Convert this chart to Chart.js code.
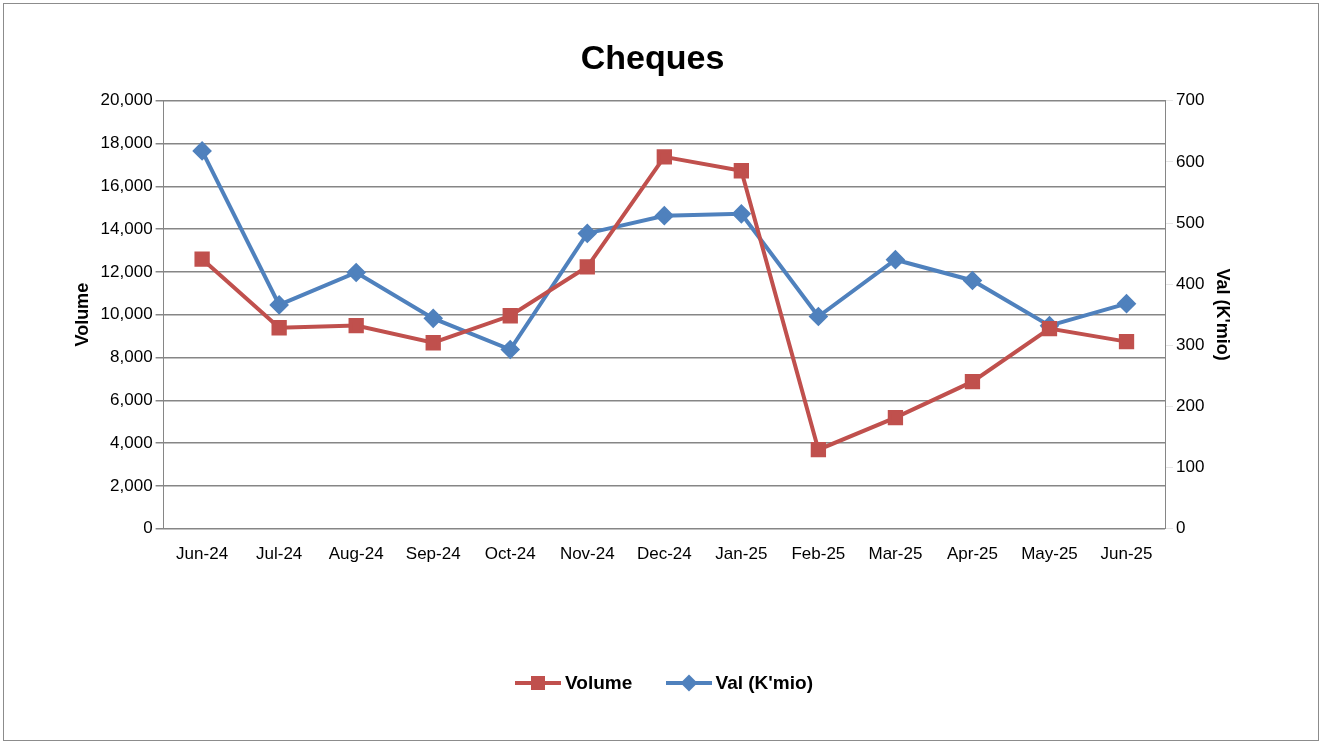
<!DOCTYPE html>
<html>
<head>
<meta charset="utf-8">
<script src="https://cdn.jsdelivr.net/npm/chart.js@4"></script>
<style>
  body { margin: 0; background: #fff; font-family: 'Liberation Sans', Arial, sans-serif; }
  .frame { position: absolute; left: 3px; top: 3px; width: 1316px; height: 738px; border: 1px solid #8c8c8c; box-sizing: border-box; }
  .wrap { position: absolute; left: 0; top: 0; width: 1328px; height: 747px; }
  .legend { position: absolute; top: 672px; left: 0; width: 1328px; text-align: center; font: bold 19px 'Liberation Sans Narrow', 'Liberation Sans', sans-serif; }
  .legend span { display: inline-flex; align-items: center; margin: 0 14px; }
  .legend svg { margin-right: 4px; }
</style>
</head>
<body>
<div class="frame"></div>
<div class="wrap"><canvas id="chequesChart" width="1328" height="747"></canvas></div>
<div class="legend">
  <span><svg width="46" height="20"><line x1="0" y1="10" x2="46" y2="10" stroke="#C0504D" stroke-width="4"/><rect x="16" y="3" width="14" height="14" fill="#C0504D"/></svg>Volume</span>
  <span><svg width="46" height="20"><line x1="0" y1="10" x2="46" y2="10" stroke="#4F81BD" stroke-width="4"/><rect x="17" y="4" width="12" height="12" fill="#4F81BD" transform="rotate(45 23 10)"/></svg>Val (K'mio)</span>
</div>
<script>
const months = ['Jun-24', 'Jul-24', 'Aug-24', 'Sep-24', 'Oct-24', 'Nov-24', 'Dec-24', 'Jan-25', 'Feb-25', 'Mar-25', 'Apr-25', 'May-25', 'Jun-25'];
const volume = [12600, 9390, 9490, 8690, 9950, 12240, 17380, 16730, 3690, 5190, 6870, 9350, 8740];
const valueKmio = [618, 366, 419, 344, 293, 483, 512, 515, 347, 440, 406, 332, 368];

document.addEventListener('DOMContentLoaded', function () {
    const ctx = document.getElementById('chequesChart');
    const tickFont = { size: 17, family: 'Liberation Sans Narrow, Liberation Sans' };
    const titleFont = { size: 18, weight: 'bold', family: 'Liberation Sans' };

    new Chart(ctx, {
        type: 'line',
        data: {
            labels: months,
            datasets: [{
                label: 'Volume',
                data: volume,
                yAxisID: 'y',
                borderColor: '#C0504D',
                backgroundColor: '#C0504D',
                borderWidth: 4,
                pointStyle: 'rect',
                pointRadius: 8,
                tension: 0
            }, {
                label: "Val (K'mio)",
                data: valueKmio,
                yAxisID: 'y1',
                borderColor: '#4F81BD',
                backgroundColor: '#4F81BD',
                borderWidth: 4,
                pointStyle: 'rectRot',
                pointRadius: 7,
                tension: 0
            }]
        },
        options: {
            responsive: false,
            animation: false,
            layout: { padding: { left: 68, right: 91, top: 20, bottom: 174 } },
            plugins: {
                legend: { display: false },
                title: {
                    display: true,
                    text: 'Cheques',
                    color: '#000',
                    font: { size: 34, weight: 'bold', family: 'Liberation Sans Narrow, Liberation Sans' },
                    padding: { top: 19, bottom: 21 }
                },
                tooltip: { enabled: false }
            },
            scales: {
                x: {
                    offset: true,
                    grid: { display: false, drawTicks: true },
                    border: { color: '#868686' },
                    ticks: { color: '#000', font: tickFont, maxRotation: 0, padding: 8 }
                },
                y: {
                    position: 'left',
                    min: 0, max: 20000,
                    ticks: { stepSize: 2000, color: '#000', font: tickFont, callback: v => v.toLocaleString('en-US') },
                    grid: { color: '#868686', lineWidth: 1.5 },
                    border: { color: '#868686' },
                    title: { display: true, text: 'Volume', color: '#000', font: titleFont }
                },
                y1: {
                    position: 'right',
                    min: 0, max: 700,
                    ticks: { stepSize: 100, color: '#000', font: tickFont },
                    grid: { drawOnChartArea: false },
                    border: { color: '#868686' },
                    title: { display: true, text: "Val (K'mio)", color: '#000', font: titleFont }
                }
            }
        }
    });
});
</script>
</body>
</html>
